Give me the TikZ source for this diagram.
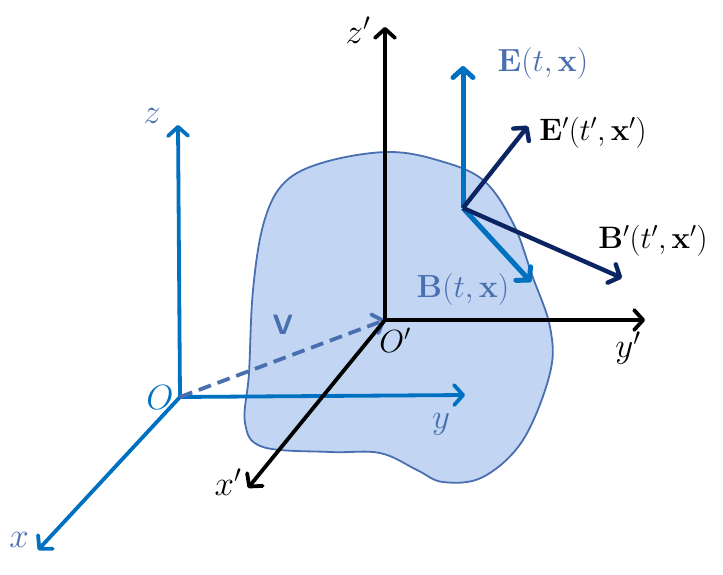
\RequirePackage{fix-cm}
\documentclass[tikz,border=0pt]{standalone}
\usetikzlibrary{arrows.meta}
\definecolor{axisblue}{HTML}{0070C0}
\definecolor{steel}{HTML}{4A6FB0}
\definecolor{blobfill}{HTML}{C2D6F3}
\definecolor{navy}{HTML}{0B2462}
\begin{document}
\begin{tikzpicture}[x=1pt,y=-1pt,
  tip/.style={-{Straight Barb[length=9pt,width=20pt,line cap=round,line join=round]}},
  blueaxis/.style={tip,draw=axisblue,line width=3.8pt},
  blackaxis/.style={tip,draw=black,line width=3.8pt},
  fieldE/.style={tip,draw=axisblue,line width=5pt},
  fieldP/.style={tip,draw=navy,line width=4.4pt},
  biglab/.style={font=\fontsize{35}{39}\selectfont,inner sep=0pt},
  fieldlab/.style={font=\fontsize{32}{36}\selectfont,inner sep=0pt},
  primelab/.style={font=\fontsize{31}{35}\selectfont,inner sep=0pt}]
\useasboundingbox (0,0) rectangle (723,575);
% blob
\draw[fill=blobfill,draw=steel,line width=1.8pt] plot[smooth cycle,tension=0.6] coordinates{
 (387,152) (437,160) (483,180) (513,223) (532,275) (550,327) (550,373)
 (523,440) (483,477) (443,482) (417,470) (380,453) (330,452) (263,447)
 (245,423) (249,373) (253,290) (264,222) (285,182) (325,162)};
% coordinates
\coordinate (O) at (180,397);
\coordinate (zt) at (178,125);
\coordinate (yt) at (465,395);
\coordinate (xt) at (38,550);
\coordinate (Op) at (385,320);
\coordinate (zpt) at (385,27);
\coordinate (ypt) at (645,320);
\coordinate (xpt) at (248,488);
\coordinate (P) at (463,208);
\coordinate (Et) at (463,66);
\coordinate (Ept) at (528,126);
\coordinate (Bpt) at (622,278);
\coordinate (Bt) at (531,282);
% blue frame
\draw[blueaxis] (O) -- (zt);
\draw[blueaxis] (O) -- (yt);
\draw[blueaxis] (O) -- (xt);
% velocity
\draw[steel,line width=3.8pt,dash pattern=on 13pt off 7pt,-{Straight Barb[length=9pt,width=20pt,line cap=round,line join=round]}] (O) -- (Op);
% black frame
\draw[blackaxis] (Op) -- (zpt);
\draw[blackaxis] (Op) -- (ypt);
\draw[blackaxis] (Op) -- (xpt);
% fields
\draw[fieldE] (P) -- (Et);
\draw[fieldE] (P) -- (Bt);
\draw[fieldP] (P) -- (Ept);
\draw[fieldP] (P) -- (Bpt);
% labels
\node[biglab,text=steel] (lz) at (152,116) {$z$};
\node[biglab,text=black] (lzp) at (358,30) {$z'$};
\node[biglab,text=axisblue] (lO) at (160,398) {$O$};
\node[fieldlab,text=black] (lOp) at (395,340) {$O'$};
\node[biglab,text=steel] (lx) at (19,540) {$x$};
\node[biglab,text=black] (lxp) at (228,482) {$x'$};
\node[biglab,text=steel] (ly) at (441,424) {$y$};
\node[biglab,text=black] (lyp) at (628,348) {$y'$};
\node[text=steel,inner sep=0pt,font=\fontsize{28}{32}\selectfont\sffamily\bfseries] (lV) at (283,325) {V};
\node[fieldlab,text=steel] (lE) at (543,64) {$\mathbf{E}(t,\mathbf{x})$};
\node[primelab,text=black] (lEp) at (593,133) {$\mathbf{E}'(t',\mathbf{x}')$};
\node[primelab,text=black] (lBp) at (653,241) {$\mathbf{B}'(t',\mathbf{x}')$};
\node[fieldlab,text=steel] (lB) at (463,290) {$\mathbf{B}(t,\mathbf{x})$};
\end{tikzpicture}
\end{document}
